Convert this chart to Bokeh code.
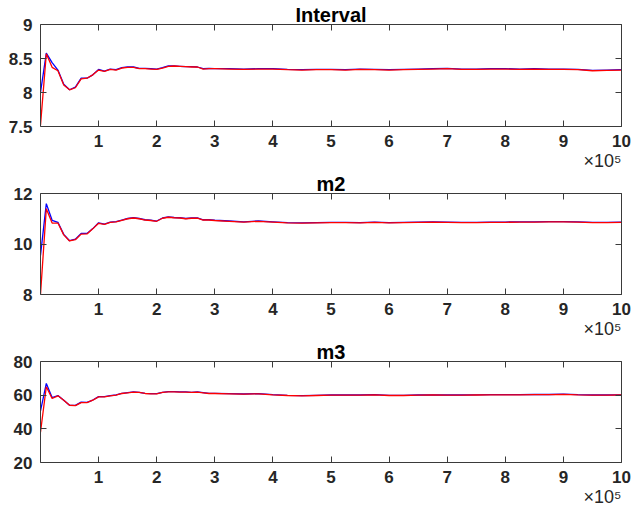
from bokeh.plotting import figure
from bokeh.models import Range1d, FixedTicker, LinearAxis, Title, CustomJSTickFormatter
from bokeh.layouts import column
from bokeh.embed import file_html
from bokeh.resources import INLINE

# ---------------- data ----------------
iters = [0, 10000, 20000, 30000, 40000, 50000, 60000, 70000, 80000, 90000, 100000,
         110000, 120000, 130000, 140000, 150000, 160000, 170000, 180000, 190000, 200000,
         210000, 220000, 230000, 240000, 250000, 260000, 270000, 280000, 290000, 300000,
         325000, 350000, 375000, 400000, 425000, 450000, 475000, 500000, 525000, 550000,
         575000, 600000, 625000, 650000, 675000, 700000, 725000, 750000, 775000, 800000,
         825000, 850000, 875000, 900000, 925000, 950000, 975000, 1000000]

interval_blue = [8.00, 8.58, 8.44, 8.33, 8.12, 8.04, 8.08, 8.21, 8.21, 8.26, 8.34,
                 8.315, 8.345, 8.335, 8.365, 8.375, 8.375, 8.355, 8.355, 8.35, 8.345,
                 8.365, 8.39, 8.39, 8.385, 8.38, 8.38, 8.375, 8.35, 8.355, 8.35,
                 8.35, 8.345, 8.35, 8.35, 8.34, 8.335, 8.34, 8.34, 8.335, 8.345,
                 8.34, 8.335, 8.34, 8.345, 8.35, 8.355, 8.345, 8.345, 8.35, 8.35,
                 8.345, 8.35, 8.345, 8.345, 8.34, 8.325, 8.33, 8.335]
interval_red = [7.52, 8.57, 8.37, 8.32, 8.11, 8.04, 8.07, 8.20, 8.21, 8.26, 8.33,
                8.31, 8.34, 8.33, 8.36, 8.37, 8.37, 8.35, 8.35, 8.345, 8.34,
                8.36, 8.385, 8.39, 8.385, 8.38, 8.375, 8.375, 8.345, 8.35, 8.35,
                8.345, 8.34, 8.345, 8.345, 8.335, 8.33, 8.335, 8.335, 8.33, 8.34,
                8.335, 8.33, 8.335, 8.34, 8.345, 8.35, 8.34, 8.34, 8.345, 8.345,
                8.34, 8.345, 8.34, 8.34, 8.335, 8.32, 8.325, 8.33]

m2_blue = [9.55, 11.60, 10.94, 10.86, 10.38, 10.13, 10.19, 10.42, 10.42, 10.61, 10.84,
           10.79, 10.87, 10.89, 10.95, 11.01, 11.04, 11.01, 10.96, 10.94, 10.91,
           11.03, 11.07, 11.05, 11.04, 11.01, 11.03, 11.03, 10.96, 10.96, 10.94,
           10.91, 10.88, 10.91, 10.88, 10.85, 10.84, 10.85, 10.86, 10.86, 10.85,
           10.87, 10.85, 10.86, 10.87, 10.88, 10.87, 10.86, 10.86, 10.87, 10.87,
           10.88, 10.88, 10.89, 10.89, 10.88, 10.86, 10.86, 10.87]
m2_red = [8.00, 11.40, 10.83, 10.83, 10.36, 10.12, 10.17, 10.39, 10.40, 10.60, 10.82,
          10.78, 10.86, 10.88, 10.94, 11.00, 11.03, 11.00, 10.95, 10.93, 10.90,
          11.02, 11.06, 11.04, 11.03, 11.00, 11.02, 11.02, 10.95, 10.95, 10.93,
          10.90, 10.87, 10.90, 10.87, 10.84, 10.83, 10.84, 10.85, 10.85, 10.84,
          10.86, 10.84, 10.85, 10.86, 10.87, 10.86, 10.85, 10.85, 10.86, 10.86,
          10.87, 10.87, 10.88, 10.88, 10.87, 10.85, 10.85, 10.86]

m3_blue = [50.6, 67.0, 58.6, 59.8, 57.0, 54.0, 53.9, 55.9, 55.7, 57.1, 59.1,
           59.1, 59.7, 60.1, 61.1, 61.5, 61.9, 61.7, 61.1, 60.9, 60.9,
           61.7, 62.1, 62.1, 61.9, 61.9, 61.7, 61.9, 61.5, 61.1, 61.1,
           60.9, 60.7, 60.9, 60.3, 59.9, 59.7, 59.9, 60.1, 60.1, 60.1,
           60.3, 59.9, 59.9, 60.1, 60.2, 60.1, 60.1, 60.2, 60.3, 60.3,
           60.3, 60.4, 60.4, 60.6, 60.3, 60.1, 60.1, 60.2]
m3_red = [38.0, 65.0, 58.0, 59.6, 57.0, 54.0, 53.8, 55.6, 55.6, 57.0, 59.0,
          59.0, 59.6, 60.0, 61.0, 61.4, 61.8, 61.6, 61.0, 60.8, 60.8,
          61.6, 62.0, 62.0, 61.8, 61.8, 61.6, 61.8, 61.4, 61.0, 61.0,
          60.8, 60.6, 60.8, 60.2, 59.8, 59.6, 59.8, 60.0, 60.0, 60.0,
          60.2, 59.8, 59.8, 60.0, 60.1, 60.0, 60.0, 60.1, 60.2, 60.2,
          60.2, 60.3, 60.3, 60.5, 60.2, 60.0, 60.0, 60.1]

titles = ["Interval", "m2", "m3"]
x_ticks = [100000, 200000, 300000, 400000, 500000, 600000, 700000, 800000, 900000, 1000000]
x_exponent = "\u00d710\u2075"
y_limits = [(7.5, 9), (8, 12), (20, 80)]
y_ticks = [[7.5, 8, 8.5, 9], [8, 10, 12], [20, 40, 60, 80]]

# ---------------- styling ----------------
FONT = "Liberation Sans"
AX_COLOR = "#3a3a3a"
TXT_COLOR = "#262626"


def style_axis(ax, ticks, show_labels, fmt_code, standoff=7):
    ax.ticker = FixedTicker(ticks=ticks)
    ax.minor_tick_line_color = None
    ax.major_tick_in = 6
    ax.major_tick_out = 0
    ax.axis_line_color = AX_COLOR
    ax.axis_line_width = 1
    ax.major_tick_line_color = AX_COLOR
    ax.major_tick_line_width = 1
    if show_labels:
        ax.formatter = CustomJSTickFormatter(code=fmt_code)
        ax.major_label_text_font = FONT
        ax.major_label_text_font_style = "bold"
        ax.major_label_text_font_size = "17px"
        ax.major_label_text_color = TXT_COLOR
        ax.major_label_standoff = standoff
    else:
        ax.formatter = CustomJSTickFormatter(code="return '';")
        ax.major_label_standoff = 0


def make_fig(blue, red, ylim, yt, title, height, top_b, bottom_b):
    p = figure(width=631, height=height,
               min_border_left=40, min_border_right=10,
               min_border_top=top_b, min_border_bottom=bottom_b,
               x_range=Range1d(0, 1000000), y_range=Range1d(*ylim),
               output_backend="svg", toolbar_location=None,
               background_fill_color="white", border_fill_color="white")
    p.outline_line_color = None
    p.xgrid.visible = False
    p.ygrid.visible = False

    style_axis(p.xaxis[0], x_ticks, True, "return (tick/100000).toFixed(0);", standoff=8)
    style_axis(p.yaxis[0], yt, True, "return tick.toString();", standoff=8)
    top = LinearAxis()
    right = LinearAxis()
    style_axis(top, x_ticks, False, None)
    style_axis(right, yt, False, None)
    p.add_layout(top, "above")
    p.add_layout(right, "right")

    p.line(iters, blue, line_color="#0000ff", line_width=1.3)
    p.line(iters, red, line_color="#ff0000", line_width=1.3)

    p.title.text = title
    p.title.align = "center"
    p.title.text_font = FONT
    p.title.text_font_style = "bold"
    p.title.text_font_size = "20px"
    p.title.text_color = "black"
    p.title.standoff = -2

    p.add_layout(Title(text=x_exponent, align="right", offset=0, standoff=-1,
                       text_font=FONT, text_font_style="normal",
                       text_font_size="18px", text_color=TXT_COLOR), "below")
    return p


p1 = make_fig(interval_blue, interval_red, y_limits[0], y_ticks[0], titles[0], 171, 24, 45)
p2 = make_fig(m2_blue, m2_red, y_limits[1], y_ticks[1], titles[1], 168, 22, 45)
p3 = make_fig(m3_blue, m3_red, y_limits[2], y_ticks[2], titles[2], 172, 22, 49)

layout = column(p1, p2, p3, spacing=0)
open("out.html", "w").write(file_html(layout, INLINE))
